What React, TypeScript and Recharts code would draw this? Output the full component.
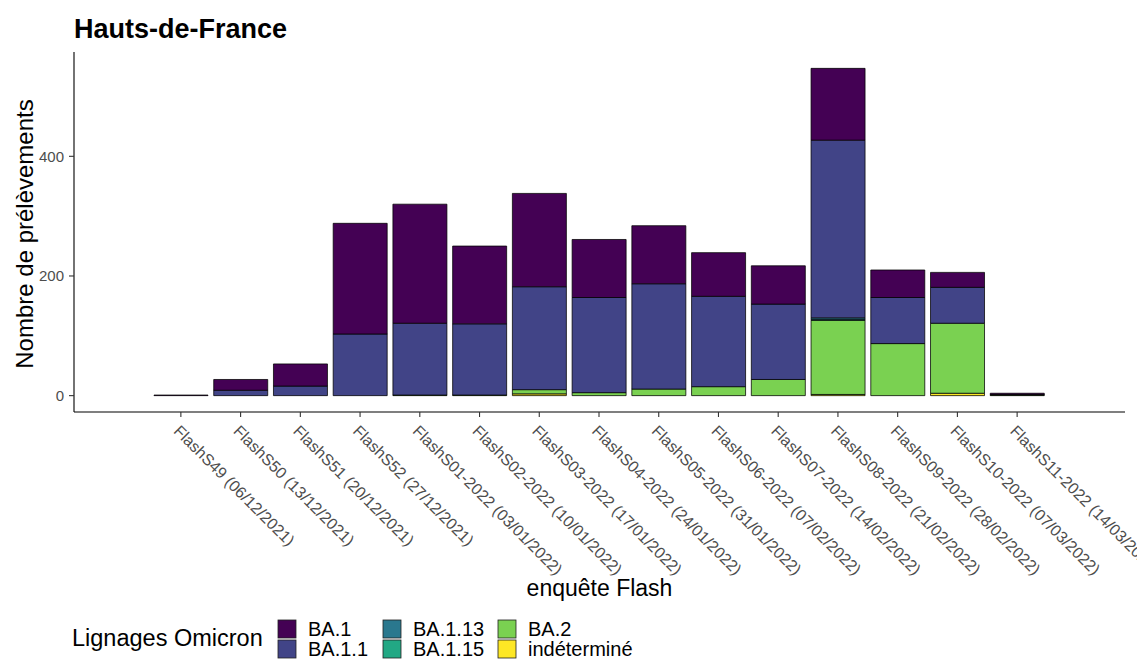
import React from "react";
import { Bar, BarChart, Label, XAxis, YAxis } from "recharts";

// enquêtes Flash (axe x)
const categories = [
  "FlashS49 (06/12/2021)",
  "FlashS50 (13/12/2021)",
  "FlashS51 (20/12/2021)",
  "FlashS52 (27/12/2021)",
  "FlashS01-2022 (03/01/2022)",
  "FlashS02-2022 (10/01/2022)",
  "FlashS03-2022 (17/01/2022)",
  "FlashS04-2022 (24/01/2022)",
  "FlashS05-2022 (31/01/2022)",
  "FlashS06-2022 (07/02/2022)",
  "FlashS07-2022 (14/02/2022)",
  "FlashS08-2022 (21/02/2022)",
  "FlashS09-2022 (28/02/2022)",
  "FlashS10-2022 (07/03/2022)",
  "FlashS11-2022 (14/03/2022)",
];

// nombre de prélèvements par lignage
const ba1 = [1, 18, 37, 185, 199, 130, 156, 97, 97, 73, 64, 120, 46, 25, 2];
const ba11 = [0, 9, 16, 103, 120, 119, 172, 159, 176, 151, 126, 297, 77, 60, 1];
const ba113 = [0, 0, 0, 0, 0, 0, 0, 0, 0, 0, 0, 3, 0, 0, 0];
const ba115 = [0, 0, 0, 0, 0, 0, 0, 0, 0, 0, 0, 1, 0, 0, 0];
const ba2 = [0, 0, 0, 0, 1, 1, 7, 5, 11, 15, 27, 124, 87, 117, 1];
const indetermine = [0, 0, 0, 0, 0, 0, 3, 0, 0, 0, 0, 2, 0, 4, 0];

const yTicks = [0, 200, 400];

// ordre d'empilement : du bas vers le haut
const SERIES = [
  { key: "indéterminé", values: indetermine, color: "#FDE725" },
  { key: "BA.2", values: ba2, color: "#7AD151" },
  { key: "BA.1.15", values: ba115, color: "#22A884" },
  { key: "BA.1.13", values: ba113, color: "#2A788E" },
  { key: "BA.1.1", values: ba11, color: "#414487" },
  { key: "BA.1", values: ba1, color: "#440154" },
];

// ordre de la légende (colonnes de 2)
const LEGEND_ORDER = ["BA.1", "BA.1.1", "BA.1.13", "BA.1.15", "BA.2", "indéterminé"];

const rows = categories.map((name, i) => {
  const r: Record<string, any> = { name };
  SERIES.forEach((s) => (r[s.key] = s.values[i]));
  return r;
});

const maxTotal = Math.max(...categories.map((_, i) => SERIES.reduce((a, s) => a + s.values[i], 0)));
const pad = maxTotal * 0.05;

const FONT = "'Liberation Sans', Arial, sans-serif";

function XTick(props: any) {
  const { x, y, payload } = props;
  return (
    <text
      x={x - 8}
      y={y + 13}
      transform={`rotate(45, ${x - 8}, ${y + 13})`}
      fontSize={16}
      fill="#4D4D4D"
      fontFamily={FONT}
      textAnchor="start"
    >
      {payload.value}
    </text>
  );
}

function XTitle(props: any) {
  const vb = props.viewBox;
  return (
    <text x={vb.x + vb.width / 2} y={596} textAnchor="middle" fontSize={23} fontFamily={FONT} fill="#000">
      enquête Flash
    </text>
  );
}

function YTitle(props: any) {
  const vb = props.viewBox;
  const cy = vb.y + vb.height / 2 + 2;
  return (
    <text x={33} y={cy} transform={`rotate(-90, 33, ${cy})`} textAnchor="middle" fontSize={24} fontFamily={FONT} fill="#000">
      Nombre de prélèvements
    </text>
  );
}

function LegendOverlay() {
  const colX = [278, 383, 498];
  const rowY = [620, 640];
  return (
    <svg width={1137} height={660} style={{ position: "absolute", left: 0, top: 0, pointerEvents: "none" }}>
      <text x={74} y={38} fontSize={27} fontWeight="bold" fontFamily={FONT} fill="#000">
        Hauts-de-France
      </text>
      <text x={72} y={646} fontSize={23.5} fontFamily={FONT} fill="#000">
        Lignages Omicron
      </text>
      {LEGEND_ORDER.map((k, i) => {
        const s = SERIES.find((d) => d.key === k)!;
        const x = colX[Math.floor(i / 2)];
        const y = rowY[i % 2];
        return (
          <g key={k}>
            <rect x={x} y={y} width={18} height={18} fill={s.color} stroke="#222" strokeWidth={0.8} />
            <text x={x + 30} y={y + 16} fontSize={20} fontFamily={FONT} fill="#000">
              {k}
            </text>
          </g>
        );
      })}
    </svg>
  );
}

export default function App() {
  return (
    <div style={{ position: "absolute", left: 0, top: 0, width: 1137, height: 660, background: "#fff" }}>
      <BarChart
        width={1137}
        height={660}
        data={rows}
        margin={{ top: 52, right: 12, bottom: 48, left: 0 }}
        barCategoryGap="5%"
      >
        <XAxis
          dataKey="name"
          interval={0}
          height={200}
          tickSize={5}
          tick={<XTick />}
          padding={{ left: 77, right: 78 }}
          axisLine={{ stroke: "#000", strokeWidth: 1.1 }}
          tickLine={{ stroke: "#333", strokeWidth: 1.1 }}
        >
          <Label content={XTitle} />
        </XAxis>
        <YAxis
          width={74}
          type="number"
          domain={[-pad, maxTotal + pad]}
          allowDataOverflow
          ticks={yTicks}
          tickSize={5}
          tickMargin={5}
          tick={{ fontSize: 15, fill: "#4D4D4D", fontFamily: FONT }}
          axisLine={{ stroke: "#000", strokeWidth: 1.1 }}
          tickLine={{ stroke: "#333", strokeWidth: 1.1 }}
        >
          <Label content={YTitle} />
        </YAxis>
        {SERIES.map((s) => (
          <Bar
            key={s.key}
            dataKey={s.key}
            stackId="a"
            fill={s.color}
            stroke="#000"
            strokeWidth={0.75}
            isAnimationActive={false}
          />
        ))}
      </BarChart>
      <LegendOverlay />
    </div>
  );
}
